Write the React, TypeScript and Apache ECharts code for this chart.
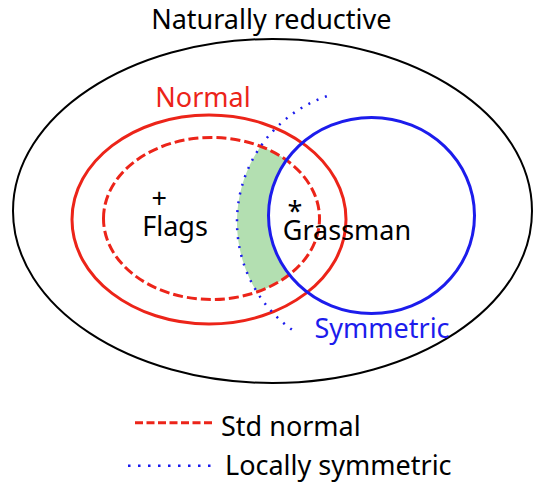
import React, { useEffect, useRef } from "react";
import * as echarts from "echarts";

// Diagram content
const setLabels = ["Naturally reductive", "Normal", "Symmetric"];
const memberLabels = ["Flags", "Grassman"];
const memberMarks = ["+", "*"];
const legendLabels = ["Std normal", "Locally symmetric"];

// Geometry of the sets: [cx, cy, rx, ry]
const outerSet = [272.5, 211, 259.5, 172];
const normalSet = [209, 219.5, 137, 104.5];
const stdNormalSet = [211.5, 218.5, 108, 81];
const symmetricSet = [371.5, 215.5, 103, 98];
// locally symmetric boundary arc: [cx, cy, r, startDeg, endDeg]
const locSymArc = [370, 222, 133, 126, 251.4];

const RED = "#ec2419";
const BLUE = "#1c1cec";
const GREEN = "#b3dfb1";
const FONT = "'Noto Sans', 'Open Sans', sans-serif";
const FS = 27;

function greenRegion(): number[][] {
  const [ecx, ecy, erx, ery] = stdNormalSet;
  const [bcx, bcy, brx, bry] = symmetricSet;
  const [dcx, dcy, dr] = locSymArc;
  const left: number[][] = [];
  const right: number[][] = [];
  for (let y = ecy - ery; y <= ecy + ery; y += 0.5) {
    const te = 1 - ((y - ecy) / ery) ** 2;
    if (te <= 0) continue;
    const exl = ecx - erx * Math.sqrt(te);
    const exr = ecx + erx * Math.sqrt(te);
    const td = dr * dr - (y - dcy) ** 2;
    if (td <= 0) continue;
    const dxl = dcx - Math.sqrt(td);
    const tb = 1 - ((y - bcy) / bry) ** 2;
    const bxl = tb > 0 ? bcx - brx * Math.sqrt(tb) : Infinity;
    const l = Math.max(exl, dxl);
    const r = Math.min(exr, bxl);
    if (r > l) {
      left.push([l, y]);
      right.push([r, y]);
    }
  }
  return left.concat(right.reverse());
}

export default function App() {
  const ref = useRef<HTMLDivElement>(null);
  useEffect(() => {
    if (!ref.current) return;
    const chart = echarts.init(ref.current, null, { renderer: "svg" });
    const ell = (s: number[], stroke: string, lw: number, dash?: number[]) => ({
      type: "ellipse",
      shape: { cx: s[0], cy: s[1], rx: s[2], ry: s[3] },
      style: { fill: "none", stroke, lineWidth: lw, lineDash: dash },
      silent: true,
    });
    const txt = (
      text: string,
      x: number,
      y: number,
      fill: string,
      align = "center",
      lh = 26
    ) => ({
      type: "text",
      x,
      y,
      style: {
        text,
        fill,
        font: `${FS}px ${FONT}`,
        lineHeight: lh,
        align,
        verticalAlign: "middle",
      },
      silent: true,
    });
    const rad = (d: number) => (d * Math.PI) / 180;
    chart.setOption({
      animation: false,
      backgroundColor: "#ffffff",
      graphic: [
        ell(outerSet, "#000000", 2),
        {
          type: "polygon",
          shape: { points: greenRegion() },
          style: { fill: GREEN, stroke: "none" },
          silent: true,
        },
        ell(normalSet, RED, 3),
        ell(stdNormalSet, RED, 3, [10, 4]),
        ell(symmetricSet, BLUE, 3),
        {
          type: "arc",
          shape: {
            cx: locSymArc[0],
            cy: locSymArc[1],
            r: locSymArc[2],
            startAngle: rad(locSymArc[3]),
            endAngle: rad(locSymArc[4]),
            clockwise: true,
          },
          style: { fill: "none", stroke: BLUE, lineWidth: 2.5, lineDash: [2, 7] },
          silent: true,
        },
        txt(setLabels[0], 271.3, 18.5, "#000000"),
        txt(setLabels[1], 203, 96, RED),
        txt(setLabels[2], 382, 327, BLUE),
        txt(memberMarks[0], 159.3, 197, "#000000", "center", 12),
        txt(memberLabels[0], 175, 225, "#000000", "center", 22),
        txt(memberMarks[1], 295, 210, "#000000", "center", 12),
        txt(memberLabels[1], 347, 229.5, "#000000", "center", 22),
        {
          type: "line",
          shape: { x1: 135, y1: 422.7, x2: 215, y2: 422.7 },
          style: { stroke: RED, lineWidth: 3, lineDash: [8, 3.5] },
          silent: true,
        },
        txt(legendLabels[0], 221, 425, "#000000", "left"),
        {
          type: "line",
          shape: { x1: 128, y1: 465.7, x2: 211, y2: 465.7 },
          style: { stroke: BLUE, lineWidth: 2.5, lineDash: [2.5, 7.5] },
          silent: true,
        },
        txt(legendLabels[1], 225, 464, "#000000", "left"),
      ],
    });
    return () => chart.dispose();
  }, []);
  return (
    <div
      ref={ref}
      style={{ position: "fixed", left: 0, top: 0, width: 533, height: 487, background: "#fff" }}
    />
  );
}
